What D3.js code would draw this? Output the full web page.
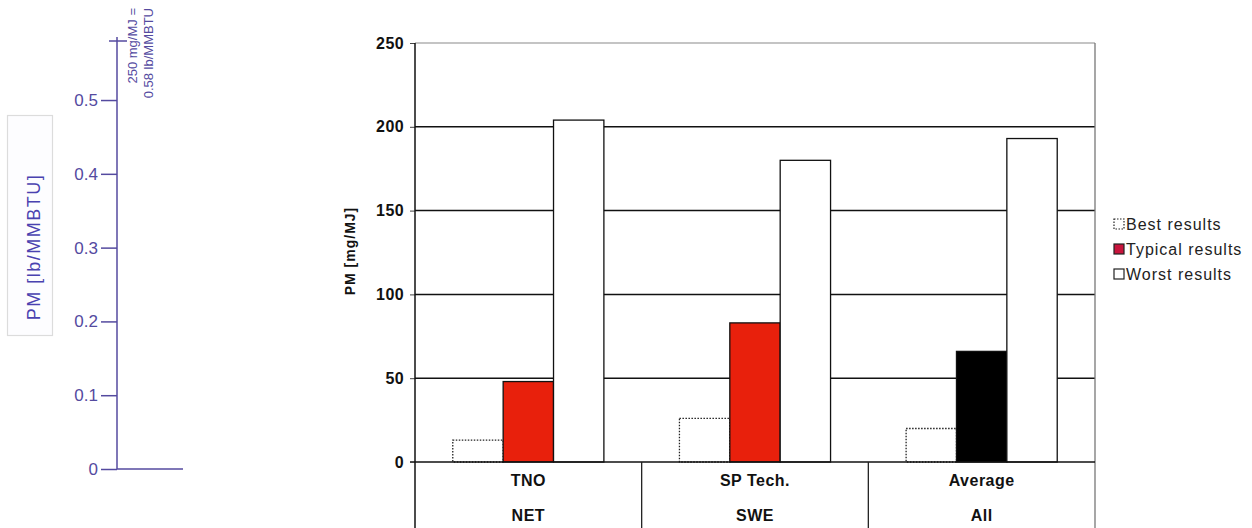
<!DOCTYPE html>
<html><head><meta charset="utf-8">
<script src="https://cdn.jsdelivr.net/npm/d3@7"></script>
<style>
html,body{margin:0;padding:0;background:#fff;}
svg{display:block;font-family:"Liberation Sans",Arial,Helvetica,sans-serif;}
</style></head>
<body>
<svg id="chart" width="1252" height="528"></svg>
<script>
// ---- data ----
const categories = ["TNO", "SP Tech.", "Average"];
const subLabels = ["NET", "SWE", "All"];
const seriesNames = ["Best results", "Typical results", "Worst results"];
const bestValues = [13, 26, 20];
const typicalValues = [48, 83, 66];
const worstValues = [204, 180, 193];
const yTicks = [0, 50, 100, 150, 200, 250];
const lbTicks = [0, 0.1, 0.2, 0.3, 0.4, 0.5];
const lbMax = 0.58;

const svg = d3.select("#chart");
const blue = "#544a9f";
const red = "#e8200c";

// ---- main chart ----
const y = d3.scaleLinear().domain([0, 250]).range([462, 43]);
const x0 = d3.scaleBand().domain(categories).range([415, 1095]).paddingInner(0).paddingOuter(0);
const x1 = d3.scaleBand().domain(["best", "typical", "worst"]).range([0, x0.bandwidth()]).paddingInner(0).paddingOuter(0.75);

const g = svg.append("g");

// grid lines
g.selectAll("line.grid").data(yTicks.filter(d => d > 0)).join("line")
  .attr("x1", 415).attr("x2", 1095)
  .attr("y1", d => y(d)).attr("y2", d => y(d))
  .attr("stroke", d => d === 250 ? "#8a8a8a" : "#111")
  .attr("stroke-width", d => d === 250 ? 1.2 : 1.5);

// right border
g.append("line").attr("x1", 1095).attr("x2", 1095).attr("y1", y(250)).attr("y2", 528)
  .attr("stroke", "#777").attr("stroke-width", 1.3);

const rows = categories.map((c, i) => ({cat: c, best: bestValues[i], typical: typicalValues[i], worst: worstValues[i], i}));

// best bars (dotted)
g.selectAll("rect.best").data(rows).join("rect")
  .attr("x", d => x0(d.cat) + x1("best")).attr("width", x1.bandwidth())
  .attr("y", d => y(d.best)).attr("height", d => y(0) - y(d.best))
  .attr("fill", "#fff").attr("stroke", "#222").attr("stroke-width", 1.3)
  .attr("stroke-dasharray", "1.5,1.5");

// typical bars
g.selectAll("rect.typ").data(rows).join("rect")
  .attr("x", d => x0(d.cat) + x1("typical")).attr("width", x1.bandwidth())
  .attr("y", d => y(d.typical)).attr("height", d => y(0) - y(d.typical))
  .attr("fill", d => d.cat === "Average" ? "#000" : red)
  .attr("stroke", "#111").attr("stroke-width", 1.3);

// worst bars
g.selectAll("rect.worst").data(rows).join("rect")
  .attr("x", d => x0(d.cat) + x1("worst")).attr("width", x1.bandwidth())
  .attr("y", d => y(d.worst)).attr("height", d => y(0) - y(d.worst))
  .attr("fill", "#fff").attr("stroke", "#111").attr("stroke-width", 1.3);

// baseline
g.append("line").attr("x1", 410).attr("x2", 1095).attr("y1", y(0)).attr("y2", y(0))
  .attr("stroke", "#111").attr("stroke-width", 1.5);

// left axis
const yAxis = d3.axisLeft(y).tickValues(yTicks).tickSize(5).tickPadding(6);
const ya = g.append("g").attr("transform", "translate(415,0)").call(yAxis);
ya.select(".domain").remove();
ya.append("line").attr("x1", 0).attr("x2", 0).attr("y1", y(250)).attr("y2", 528)
  .attr("stroke", "#111").attr("stroke-width", 1.5);
ya.selectAll(".tick line").attr("stroke", "#444").attr("stroke-width", 1);
ya.selectAll(".tick text").attr("font-size", 16).attr("font-weight", "bold")
  .attr("fill", "#111").attr("letter-spacing", "0.4px")
  .attr("font-family", "'Liberation Sans',Arial,sans-serif");

// axis title
g.append("text").attr("transform", "translate(355,251) rotate(-90)")
  .attr("text-anchor", "middle").attr("font-size", 14).attr("font-weight", "bold")
  .attr("letter-spacing", "1px").attr("fill", "#111").text("PM [mg/MJ]");

// category dividers
g.selectAll("line.div").data(categories.slice(1)).join("line")
  .attr("x1", d => x0(d)).attr("x2", d => x0(d)).attr("y1", y(0)).attr("y2", 528)
  .attr("stroke", "#222").attr("stroke-width", 1.3);

// category labels
g.selectAll("text.cat").data(categories).join("text")
  .attr("x", d => x0(d) + x0.bandwidth() / 2).attr("y", 486)
  .attr("text-anchor", "middle").attr("font-size", 16).attr("font-weight", "bold")
  .attr("letter-spacing", "0.5px").attr("fill", "#111").text(d => d);
g.selectAll("text.sub").data(subLabels).join("text")
  .attr("x", (d, i) => x0(categories[i]) + x0.bandwidth() / 2).attr("y", 521)
  .attr("text-anchor", "middle").attr("font-size", 16).attr("font-weight", "bold")
  .attr("letter-spacing", "0.5px").attr("fill", "#111").text(d => d);

// legend
const legY = [224, 249, 274];
const leg = g.selectAll("g.leg").data(seriesNames).join("g")
  .attr("transform", (d, i) => `translate(1114,${legY[i]})`);
leg.append("rect").attr("x", 0).attr("y", -5).attr("width", 10).attr("height", 10)
  .attr("fill", (d, i) => i === 1 ? "#c8143c" : "#fff")
  .attr("stroke", "#222").attr("stroke-width", 1.2)
  .attr("stroke-dasharray", (d, i) => i === 0 ? "1.5,1.5" : null);
leg.append("text").attr("x", 12).attr("y", 6).attr("font-size", 16)
  .attr("letter-spacing", "1px").attr("fill", "#222").text(d => d);

// ---- overlay: secondary axis in lb/MMBTU ----
const yLb = d3.scaleLinear().domain([0, lbMax]).range([469, 41]);
const lbAxis = d3.axisLeft(yLb).tickValues(lbTicks).tickSize(16).tickPadding(3)
  .tickFormat(d => d === 0 ? "0" : d3.format(".1f")(d));
const la = svg.append("g").attr("transform", "translate(117,0)").call(lbAxis);
la.select(".domain").remove();
la.append("line").attr("x1", 0).attr("x2", 0).attr("y1", yLb(lbMax) - 4).attr("y2", yLb(0))
  .attr("stroke", blue).attr("stroke-width", 1.5);
la.append("line").attr("x1", -8).attr("x2", 10).attr("y1", yLb(lbMax)).attr("y2", yLb(lbMax))
  .attr("stroke", blue).attr("stroke-width", 1.5);
la.append("line").attr("x1", 0).attr("x2", 66).attr("y1", yLb(0)).attr("y2", yLb(0))
  .attr("stroke", blue).attr("stroke-width", 1.5);
la.selectAll(".tick line").attr("stroke", blue).attr("stroke-width", 1.5);
la.selectAll(".tick text").attr("font-size", 17).attr("fill", blue)
  .attr("font-family", "'Liberation Sans',Arial,sans-serif");

// annotation
const ann = svg.append("text").attr("transform", "translate(137,8) rotate(-90)")
  .attr("text-anchor", "end").attr("font-size", 13).attr("fill", blue);
ann.append("tspan").attr("x", 0).attr("y", 0).text("250 mg/MJ =");
ann.append("tspan").attr("x", 0).attr("y", 16).text("0.58 lb/MMBTU");

// label box
svg.append("rect").attr("x", 7.5).attr("y", 115.5).attr("width", 45).attr("height", 220)
  .attr("fill", "#fdfdff").attr("stroke", "#dcdcdc").attr("stroke-width", 1.2);
svg.append("text").attr("transform", "translate(40,247) rotate(-90)")
  .attr("text-anchor", "middle").attr("font-size", 18).attr("letter-spacing", "1.5px")
  .attr("fill", "#4a42b0").text("PM [lb/MMBTU]");
</script>
</body></html>
